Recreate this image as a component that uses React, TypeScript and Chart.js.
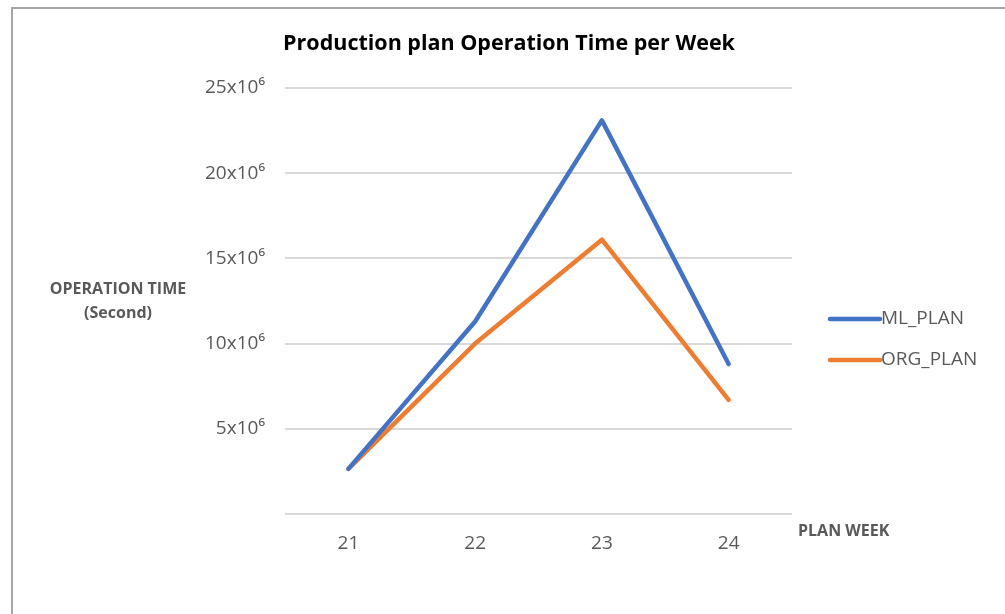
import React, { useEffect, useRef } from "react";
import { Chart, registerables } from "chart.js";

Chart.register(...registerables);

const weeks = ["21", "22", "23", "24"];
const mlPlan = [2.65e6, 11.3e6, 23.1e6, 8.8e6];
const orgPlan = [2.65e6, 10.0e6, 16.1e6, 6.7e6];
const yTicks = [0, 5e6, 10e6, 15e6, 20e6, 25e6];

const titleText = "Production plan Operation Time per Week";
const yTitleLines = ["OPERATION TIME", "(Second)"];
const xTitleText = "PLAN WEEK";
const seriesNames = ["ML_PLAN", "ORG_PLAN"];
const BLUE = "#4472C4";
const ORANGE = "#ED7D31";
const GREY_TXT = "#595959";
const FONT = "'Open Sans', 'DejaVu Sans', sans-serif";

const decorPlugin = {
  id: "decor",
  beforeDraw(chart: any) {
    const ctx = chart.ctx;
    ctx.save();
    ctx.fillStyle = "#ffffff";
    ctx.fillRect(0, 0, chart.width, chart.height);
    ctx.strokeStyle = "#a6a6a6";
    ctx.lineWidth = 2;
    ctx.beginPath();
    ctx.moveTo(12, chart.height);
    ctx.lineTo(12, 8);
    ctx.lineTo(chart.width, 8);
    ctx.stroke();
    ctx.restore();
  },
  afterDraw(chart: any) {
    const ctx = chart.ctx;
    ctx.save();
    // title
    ctx.fillStyle = "#000000";
    ctx.font = `bold 21.5px ${FONT}`;
    ctx.textAlign = "center";
    ctx.textBaseline = "middle";
    ctx.fillText(titleText, 509, 44);
    // y title
    ctx.fillStyle = GREY_TXT;
    ctx.font = `bold 16px ${FONT}`;
    ctx.fillText(yTitleLines[0], 118, 289);
    ctx.fillText(yTitleLines[1], 118, 313);
    // x title
    ctx.textAlign = "left";
    ctx.fillText(xTitleText, 798, 531);
    // legend
    const colors = [BLUE, ORANGE];
    const ys = [319, 360];
    ctx.font = `19px ${FONT}`;
    ctx.lineCap = "round";
    for (let i = 0; i < 2; i++) {
      ctx.strokeStyle = colors[i];
      ctx.lineWidth = 4.5;
      ctx.beginPath();
      ctx.moveTo(830, ys[i]);
      ctx.lineTo(880, ys[i]);
      ctx.stroke();
      ctx.fillStyle = GREY_TXT;
      ctx.fillText(seriesNames[i], 881, ys[i]);
    }
    ctx.restore();
  },
};

export default function App() {
  const ref = useRef<HTMLCanvasElement | null>(null);
  useEffect(() => {
    if (!ref.current) return;
    const chart = new Chart(ref.current, {
      type: "line",
      data: {
        labels: weeks,
        datasets: [
          {
            label: seriesNames[0],
            data: mlPlan,
            borderColor: BLUE,
            backgroundColor: BLUE,
            borderWidth: 4.5,
            pointRadius: 0,
            tension: 0,
            borderCapStyle: "round",
            borderJoinStyle: "round",
          },
          {
            label: seriesNames[1],
            data: orgPlan,
            borderColor: ORANGE,
            backgroundColor: ORANGE,
            borderWidth: 4.5,
            pointRadius: 0,
            tension: 0,
            borderCapStyle: "round",
            borderJoinStyle: "round",
          },
        ],
      },
      options: {
        animation: false,
        responsive: false,
        devicePixelRatio: 1,
        layout: { padding: { top: 88, right: 213, left: 0, bottom: 0 } },
        plugins: {
          legend: { display: false },
          tooltip: { enabled: false },
          title: { display: false },
        },
        scales: {
          x: {
            offset: true,
            grid: { display: false },
            border: { display: false },
            ticks: {
              color: GREY_TXT,
              font: { family: FONT, size: 19 },
              padding: 10,
            },
            afterFit: (s: any) => {
              s.height = 100;
            },
          },
          y: {
            min: 0,
            max: 25e6,
            afterBuildTicks: (s: any) => {
              s.ticks = yTicks.map((v) => ({ value: v }));
            },
            grid: { color: "#d9d9d9", lineWidth: 2, drawTicks: false },
            border: { display: false },
            ticks: {
              color: GREY_TXT,
              font: { family: FONT, size: 19 },
              padding: 20,
              callback: (v: any) => (v === 0 ? "" : `${v / 1e6}x10\u2076`),
            },
            afterFit: (s: any) => {
              s.width = 285;
            },
          },
        },
      },
      plugins: [decorPlugin],
    });
    return () => chart.destroy();
  }, []);
  return (
    <div style={{ position: "fixed", left: 0, top: 0, width: 1005, height: 614, background: "#fff" }}>
      <canvas ref={ref} width={1005} height={614} style={{ display: "block" }} />
    </div>
  );
}
